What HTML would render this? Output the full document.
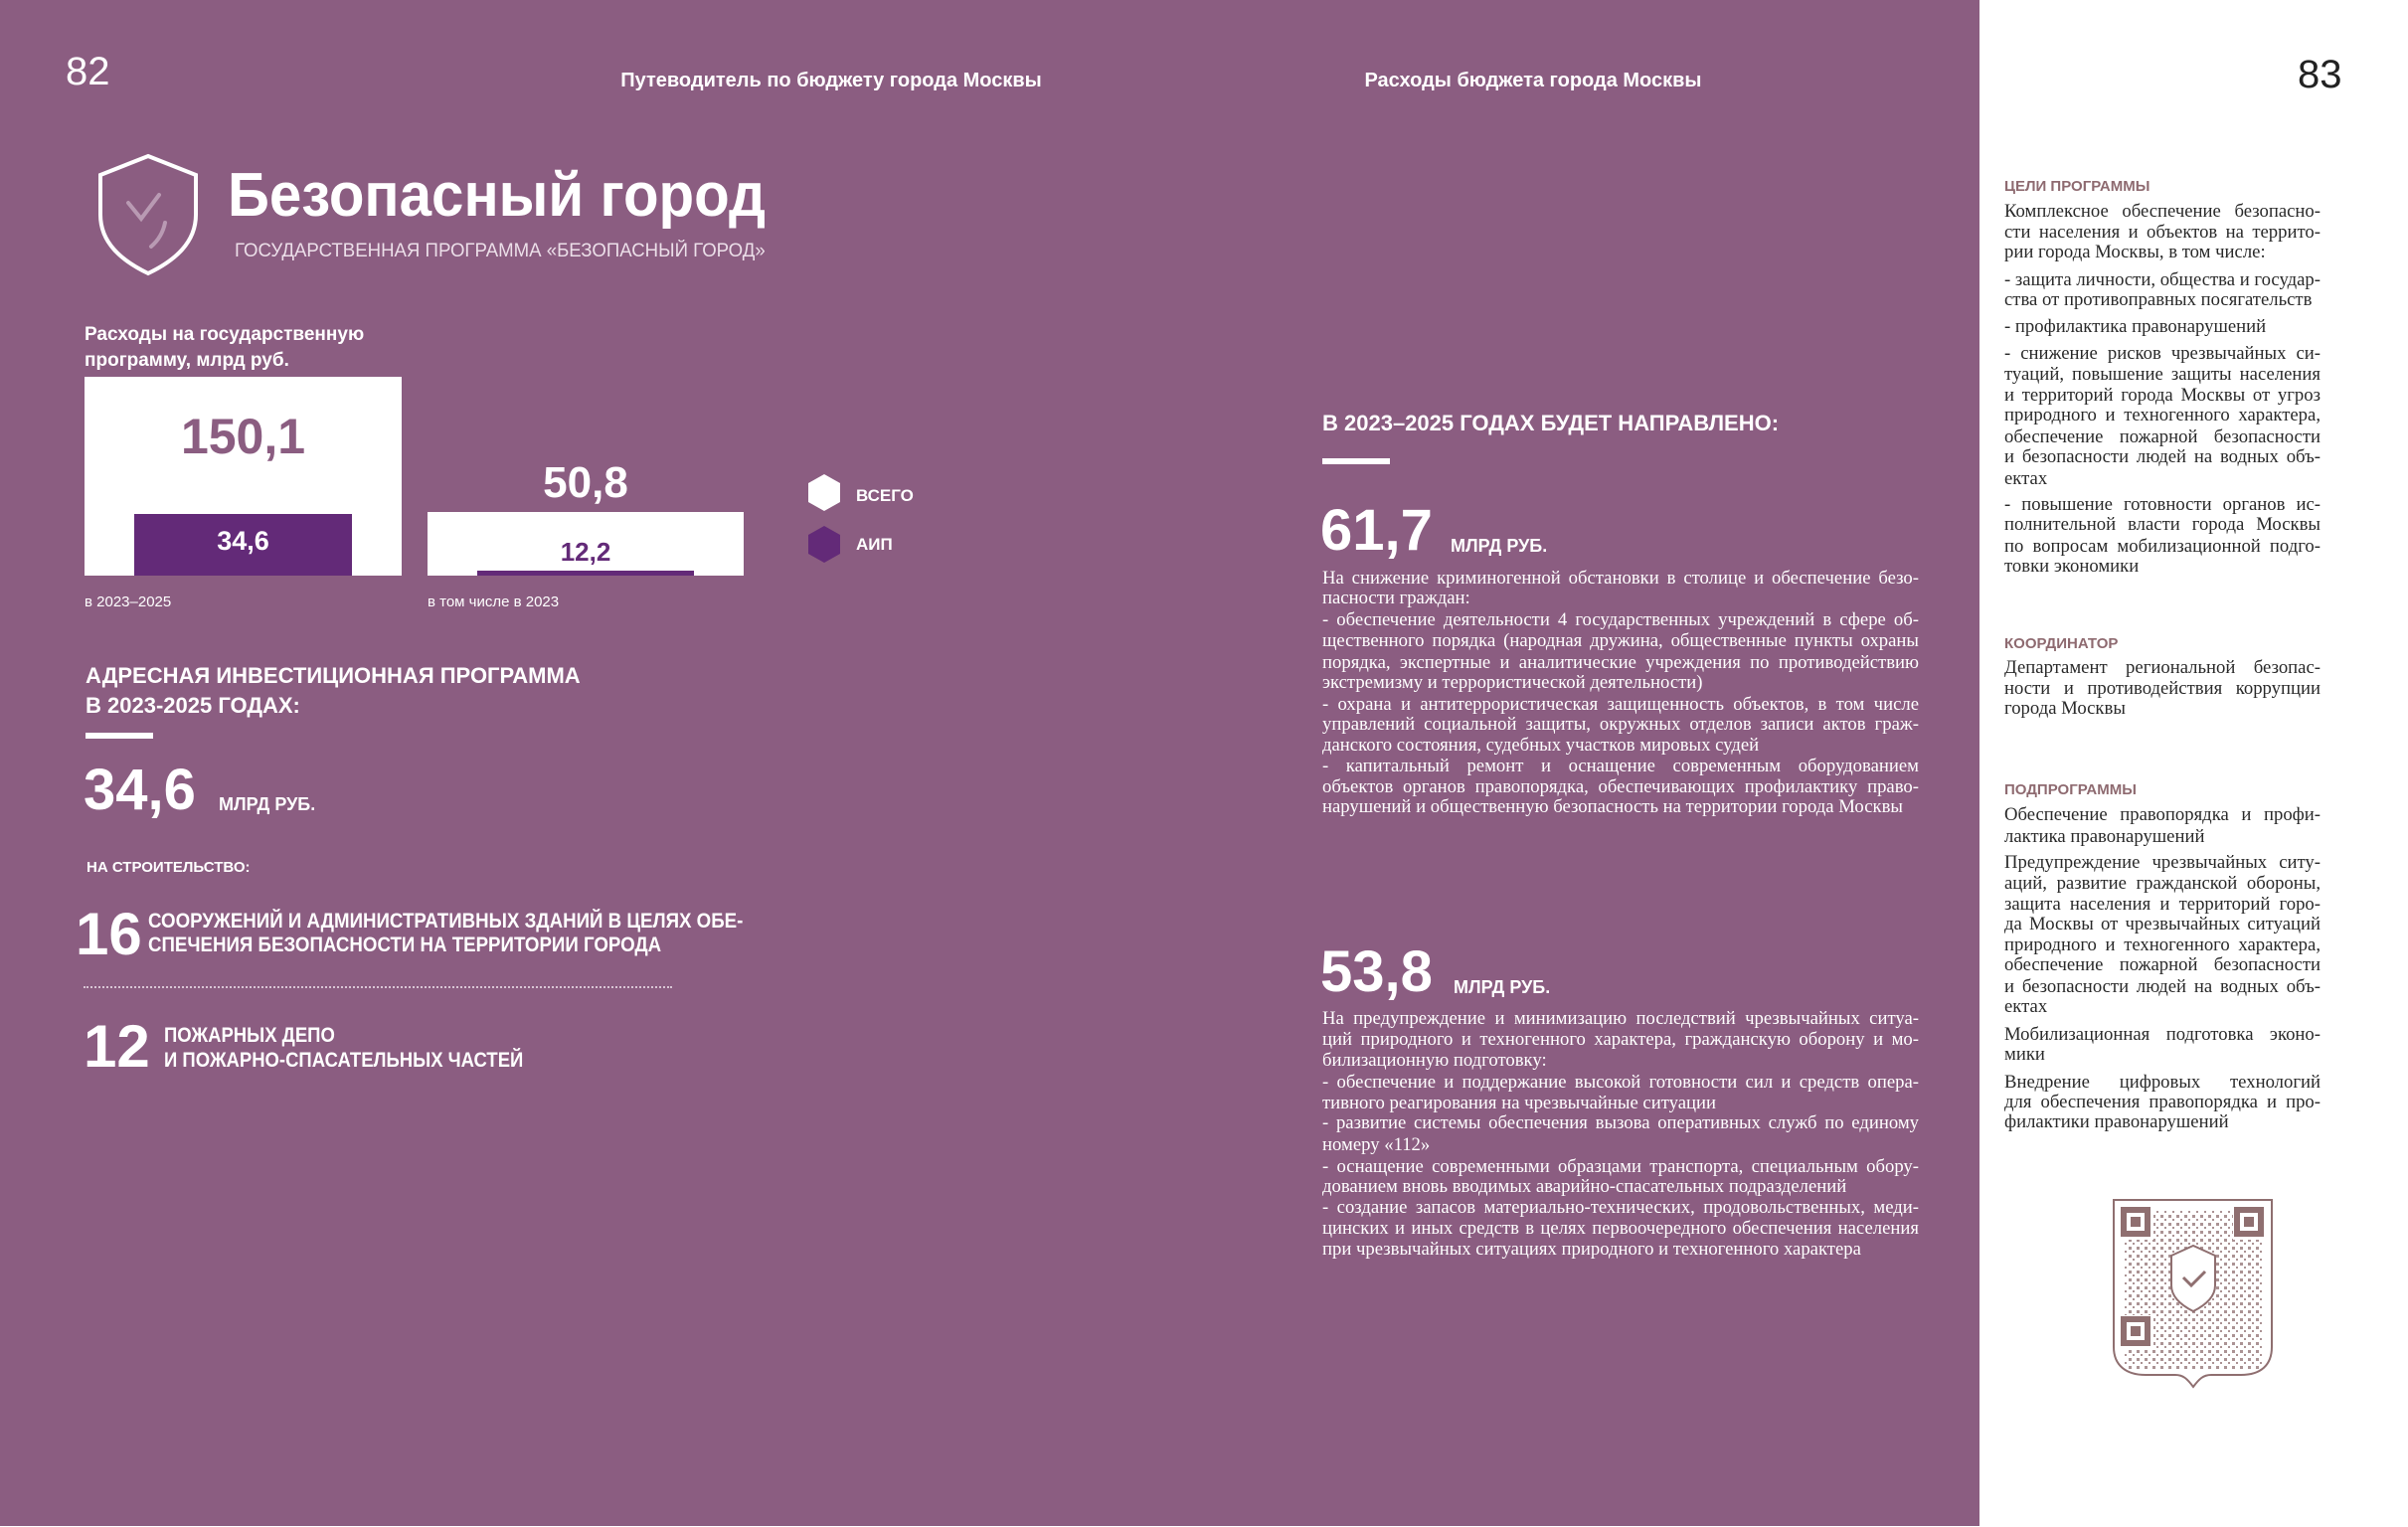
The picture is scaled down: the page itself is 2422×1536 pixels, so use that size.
<!DOCTYPE html>
<html><head><meta charset="utf-8">
<style>
*{margin:0;padding:0;box-sizing:border-box}
body{width:2422px;height:1536px;position:relative;background:#fff;overflow:hidden;font-family:"Liberation Sans Narrow","Liberation Sans",sans-serif}
#pur{position:absolute;left:0;top:0;width:1991px;height:1535px;background:#8b5d81}
.a{position:absolute;white-space:nowrap;line-height:1}
.w{color:#fff}
.b{font-weight:bold}
.n{transform-origin:left top}
.s{font-family:"Liberation Serif",serif;font-size:18.7px;color:#fff}
.p{left:1330px;width:600px}
.r{left:2016px;width:318px;color:#2a2a2a}
.j{text-align:justify;text-align-last:justify}
.h{font-family:"Liberation Sans",sans-serif;font-weight:bold;font-size:15px;color:#8e6a70;left:2016px}
</style></head><body>
<div id="pur"></div>

<div class="a w" style="left:66px;top:52px;font-size:40px">82</div>
<div class="a w b" style="left:536px;top:71px;width:600px;text-align:center;font-size:20px">Путеводитель по бюджету города Москвы</div>
<div class="a w b" style="left:1242px;top:71px;width:600px;text-align:center;font-size:20px">Расходы бюджета города Москвы</div>
<div class="a" style="left:2311px;top:55px;font-size:40px;color:#222">83</div>

<svg class="a" style="left:96px;top:154px" width="106" height="124" viewBox="0 0 106 124">
<path d="M53 3 L101 22 L101 62 C101 90 80 108 53 121 C26 108 5 90 5 62 L5 22 Z" fill="none" stroke="#fff" stroke-width="4"/>
<path d="M33 50 L46 66 L64 42" fill="none" stroke="#b99ab3" stroke-width="4" stroke-linecap="round"/>
<path d="M70 70 C68 80 63 88 56 94" fill="none" stroke="#b99ab3" stroke-width="4" stroke-linecap="round"/>
</svg>
<div class="a w b n" style="left:229px;top:166px;font-size:62px;transform:scaleX(.94)">Безопасный город</div>
<div class="a w n" style="left:236px;top:243px;font-size:19px;color:#ecdfe9;transform:scaleX(.98)">ГОСУДАРСТВЕННАЯ ПРОГРАММА «БЕЗОПАСНЫЙ ГОРОД»</div>

<div class="a w b" style="left:85px;top:327px;font-size:19px">Расходы на государственную</div>
<div class="a w b" style="left:85px;top:353px;font-size:19px">программу, млрд руб.</div>

<div class="a" style="left:85px;top:379px;width:319px;height:200px;background:#fff"></div>
<div class="a b" style="left:85px;top:414px;width:319px;text-align:center;font-size:50px;color:#8b5d81">150,1</div>
<div class="a" style="left:135px;top:517px;width:219px;height:62px;background:#632a78"></div>
<div class="a w b" style="left:135px;top:531px;width:219px;text-align:center;font-size:27px">34,6</div>

<div class="a" style="left:430px;top:515px;width:318px;height:64px;background:#fff"></div>
<div class="a w b" style="left:430px;top:464px;width:318px;text-align:center;font-size:44px">50,8</div>
<div class="a" style="left:480px;top:574px;width:218px;height:5px;background:#632a78"></div>
<div class="a b" style="left:430px;top:542px;width:318px;text-align:center;font-size:26px;color:#632a78">12,2</div>

<svg class="a" style="left:812px;top:477px" width="34" height="90" viewBox="0 0 34 90">
<polygon points="17,0 33,9 33,28 17,37 1,28 1,9" fill="#fff"/>
<polygon points="17,52 33,61 33,80 17,89 1,80 1,61" fill="#632a78"/>
</svg>
<div class="a w b" style="left:861px;top:490px;font-size:17px">ВСЕГО</div>
<div class="a w b" style="left:861px;top:539px;font-size:17px">АИП</div>

<div class="a w" style="left:85px;top:598px;font-size:15px">в 2023–2025</div>
<div class="a w" style="left:430px;top:598px;font-size:15px">в том числе в 2023</div>

<div class="a w b" style="left:86px;top:669px;font-size:22px">АДРЕСНАЯ ИНВЕСТИЦИОННАЯ ПРОГРАММА</div>
<div class="a w b" style="left:86px;top:699px;font-size:22px">В 2023-2025 ГОДАХ:</div>
<div class="a" style="left:86px;top:737px;width:68px;height:6px;background:#fff"></div>
<div class="a w b" style="left:84px;top:766px;font-size:58px">34,6</div>
<div class="a w b" style="left:220px;top:800px;font-size:18px">МЛРД РУБ.</div>
<div class="a w b" style="left:87px;top:865px;font-size:15px">НА СТРОИТЕЛЬСТВО:</div>

<div class="a w b" style="left:76px;top:910px;font-size:60px">16</div>
<div class="a w b n" style="left:149px;top:916px;font-size:21px;transform:scaleX(.89)">СООРУЖЕНИЙ И АДМИНИСТРАТИВНЫХ ЗДАНИЙ В ЦЕЛЯХ ОБЕ-</div>
<div class="a w b n" style="left:149px;top:940px;font-size:21px;transform:scaleX(.89)">СПЕЧЕНИЯ БЕЗОПАСНОСТИ НА ТЕРРИТОРИИ ГОРОДА</div>
<div class="a" style="left:84px;top:992px;width:592px;border-top:2px dotted #d8c5d4"></div>
<div class="a w b" style="left:84px;top:1023px;font-size:60px">12</div>
<div class="a w b n" style="left:165px;top:1031px;font-size:21px;transform:scaleX(.88)">ПОЖАРНЫХ ДЕПО</div>
<div class="a w b n" style="left:165px;top:1056px;font-size:21px;transform:scaleX(.88)">И ПОЖАРНО-СПАСАТЕЛЬНЫХ ЧАСТЕЙ</div>

<div class="a w b" style="left:1330px;top:415px;font-size:22px">В 2023–2025 ГОДАХ БУДЕТ НАПРАВЛЕНО:</div>
<div class="a" style="left:1330px;top:461px;width:68px;height:6px;background:#fff"></div>
<div class="a w b" style="left:1328px;top:505px;font-size:58px">61,7</div>
<div class="a w b" style="left:1459px;top:540px;font-size:18px">МЛРД РУБ.</div>

<div class="a s p j" style="top:573px">На снижение криминогенной обстановки в столице и обеспечение безо-</div>
<div class="a s p" style="top:593px">пасности граждан:</div>
<div class="a s p j" style="top:615px">- обеспечение деятельности 4 государственных учреждений в сфере об-</div>
<div class="a s p j" style="top:636px">щественного порядка (народная дружина, общественные пункты охраны</div>
<div class="a s p j" style="top:658px">порядка, экспертные и аналитические учреждения по противодействию</div>
<div class="a s p" style="top:678px">экстремизму и террористической деятельности)</div>
<div class="a s p j" style="top:700px">- охрана и антитеррористическая защищенность объектов, в том числе</div>
<div class="a s p j" style="top:720px">управлений социальной защиты, окружных отделов записи актов граж-</div>
<div class="a s p" style="top:741px">данского состояния, судебных участков мировых судей</div>
<div class="a s p j" style="top:762px">- капитальный ремонт и оснащение современным оборудованием</div>
<div class="a s p j" style="top:783px">объектов органов правопорядка, обеспечивающих профилактику право-</div>
<div class="a s p" style="top:803px">нарушений и общественную безопасность на территории города Москвы</div>

<div class="a w b" style="left:1328px;top:949px;font-size:58px">53,8</div>
<div class="a w b" style="left:1462px;top:984px;font-size:18px">МЛРД РУБ.</div>

<div class="a s p j" style="top:1016px">На предупреждение и минимизацию последствий чрезвычайных ситуа-</div>
<div class="a s p j" style="top:1037px">ций природного и техногенного характера, гражданскую оборону и мо-</div>
<div class="a s p" style="top:1058px">билизационную подготовку:</div>
<div class="a s p j" style="top:1080px">- обеспечение и поддержание высокой готовности сил и средств опера-</div>
<div class="a s p" style="top:1101px">тивного реагирования на чрезвычайные ситуации</div>
<div class="a s p j" style="top:1121px">- развитие системы обеспечения вызова оперативных служб по единому</div>
<div class="a s p" style="top:1143px">номеру «112»</div>
<div class="a s p j" style="top:1165px">- оснащение современными образцами транспорта, специальным обору-</div>
<div class="a s p" style="top:1185px">дованием вновь вводимых аварийно-спасательных подразделений</div>
<div class="a s p j" style="top:1206px">- создание запасов материально-технических, продовольственных, меди-</div>
<div class="a s p j" style="top:1227px">цинских и иных средств в целях первоочередного обеспечения населения</div>
<div class="a s p" style="top:1248px">при чрезвычайных ситуациях природного и техногенного характера</div>

<div class="a h" style="top:180px">ЦЕЛИ ПРОГРАММЫ</div>
<div class="a s r j" style="top:204px">Комплексное обеспечение безопасно-</div>
<div class="a s r j" style="top:225px">сти населения и объектов на террито-</div>
<div class="a s r" style="top:245px">рии города Москвы, в том числе:</div>
<div class="a s r j" style="top:273px">- защита личности, общества и государ-</div>
<div class="a s r" style="top:293px">ства от противоправных посягательств</div>
<div class="a s r" style="top:320px">- профилактика правонарушений</div>
<div class="a s r j" style="top:347px">- снижение рисков чрезвычайных си-</div>
<div class="a s r j" style="top:368px">туаций, повышение защиты населения</div>
<div class="a s r j" style="top:389px">и территорий города Москвы от угроз</div>
<div class="a s r j" style="top:409px">природного и техногенного характера,</div>
<div class="a s r j" style="top:431px">обеспечение пожарной безопасности</div>
<div class="a s r j" style="top:451px">и безопасности людей на водных объ-</div>
<div class="a s r" style="top:473px">ектах</div>
<div class="a s r j" style="top:499px">- повышение готовности органов ис-</div>
<div class="a s r j" style="top:519px">полнительной власти города Москвы</div>
<div class="a s r j" style="top:541px">по вопросам мобилизационной подго-</div>
<div class="a s r" style="top:561px">товки экономики</div>

<div class="a h" style="top:640px">КООРДИНАТОР</div>
<div class="a s r j" style="top:663px">Департамент региональной безопас-</div>
<div class="a s r j" style="top:684px">ности и противодействия коррупции</div>
<div class="a s r" style="top:704px">города Москвы</div>

<div class="a h" style="top:787px">ПОДПРОГРАММЫ</div>
<div class="a s r j" style="top:811px">Обеспечение правопорядка и профи-</div>
<div class="a s r" style="top:833px">лактика правонарушений</div>
<div class="a s r j" style="top:859px">Предупреждение чрезвычайных ситу-</div>
<div class="a s r j" style="top:880px">аций, развитие гражданской обороны,</div>
<div class="a s r j" style="top:901px">защита населения и территорий горо-</div>
<div class="a s r j" style="top:921px">да Москвы от чрезвычайных ситуаций</div>
<div class="a s r j" style="top:942px">природного и техногенного характера,</div>
<div class="a s r j" style="top:962px">обеспечение пожарной безопасности</div>
<div class="a s r j" style="top:984px">и безопасности людей на водных объ-</div>
<div class="a s r" style="top:1004px">ектах</div>
<div class="a s r j" style="top:1032px">Мобилизационная подготовка эконо-</div>
<div class="a s r" style="top:1052px">мики</div>
<div class="a s r j" style="top:1080px">Внедрение цифровых технологий</div>
<div class="a s r j" style="top:1100px">для обеспечения правопорядка и про-</div>
<div class="a s r" style="top:1120px">филактики правонарушений</div>

<svg class="a" style="left:2124px;top:1205px" width="164" height="198" viewBox="0 0 164 198">
<defs>
<pattern id="dt" width="8" height="8" patternUnits="userSpaceOnUse">
<rect x="1" y="1" width="3" height="3" fill="#8f6f70"/>
<rect x="5" y="5" width="2" height="2" fill="#8f6f70"/>
</pattern>
</defs>
<path d="M2 2 H161 V150 C161 168 150 178 130 178 H100 C92 178 88 182 82 190 C76 182 72 178 64 178 H34 C14 178 2 168 2 150 Z" fill="#fff" stroke="#8f6f70" stroke-width="2"/>
<rect x="12" y="12" width="140" height="160" fill="url(#dt)" opacity="0.75"/>
<rect x="8" y="8" width="34" height="34" fill="#fff"/>
<rect x="122" y="8" width="34" height="34" fill="#fff"/>
<rect x="8" y="118" width="34" height="34" fill="#fff"/>
<g fill="none" stroke="#8f6f70" stroke-width="6">
<rect x="12" y="12" width="24" height="24"/><rect x="126" y="12" width="24" height="24"/><rect x="12" y="122" width="24" height="24"/>
</g>
<g fill="#8f6f70"><rect x="19" y="19" width="10" height="10"/><rect x="133" y="19" width="10" height="10"/><rect x="19" y="129" width="10" height="10"/></g>
<path d="M60 58 L82 48 L104 58 V88 C104 100 94 108 82 114 C70 108 60 100 60 88 Z" fill="#fff" stroke="#8f6f70" stroke-width="2"/>
<path d="M72 80 L80 88 L94 74" fill="none" stroke="#8f6f70" stroke-width="3"/>
</svg>
</body></html>
